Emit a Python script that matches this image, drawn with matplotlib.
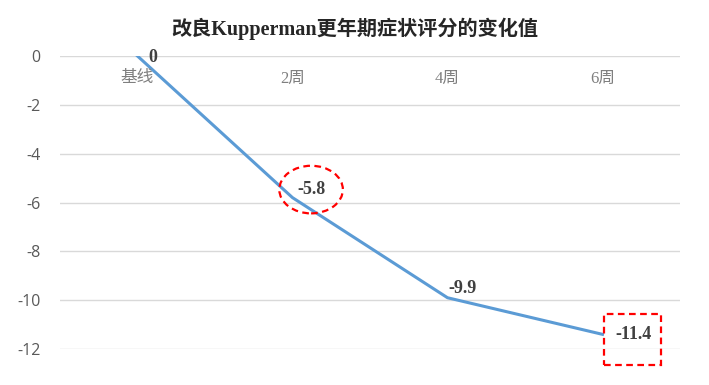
import matplotlib
matplotlib.use("Agg")
import matplotlib.pyplot as plt
from matplotlib.patches import Ellipse, Rectangle

categories = ["基线", "2周", "4周", "6周"]
values = [0, -5.8, -9.9, -11.4]
yticks = [0, -2, -4, -6, -8, -10, -12]
title = "改良Kupperman更年期症状评分的变化值"

fig = plt.figure(figsize=(7.09, 3.85), dpi=100)
ax = fig.add_axes([0.0846, 0.0935, 0.8745, 0.761])
x = list(range(len(categories)))
ax.plot(x, values, color="#5B9BD5", lw=2.2, zorder=3)
ax.set_xlim(-0.5, len(categories) - 0.5)
ax.set_ylim(-12, 0)
ax.set_yticks(yticks)
ax.set_yticklabels([str(v) for v in yticks], fontsize=11.5, color="#595959",
                   family=["Open Sans", "DejaVu Sans"])
ax.grid(axis="y", color="#D9D9D9", lw=1)
ax.tick_params(axis="y", length=0, pad=14)
ax.set_xticks([])
for s in ax.spines.values():
    s.set_visible(False)
for xi, c in zip(x, categories):
    ax.text(xi, -0.92, c, ha="center", va="center", fontsize=12, color="#7F7F7F",
            family=["Liberation Serif", "Noto Sans CJK SC"])
label_fams = ["Liberation Serif", "DejaVu Serif"]
offsets = [(0.1, -0.05), (0.12, 0.35), (0.1, 0.38), (0.2, 0.0)]
for xi, v, (dx, dy) in zip(x, values, offsets):
    ax.text(xi + dx, v + dy, f"{v:g}", ha="center", va="center", fontsize=13,
            fontweight="bold", color="#404040", family=label_fams)

# highlight marks
e = Ellipse((1.12, values[1] + 0.33), 0.41, 1.95, fill=False, ec="#FF0000",
            ls=(0, (3, 2)), lw=1.6, zorder=4)
ax.add_patch(e)
r = Rectangle((3.01, -12.65), 0.37, 2.1, fill=False, ec="#FF0000",
              ls=(0, (3, 2)), lw=1.6, zorder=4, clip_on=False)
ax.add_patch(r)

fig.text(0.5, 0.925, title, ha="center", va="center", fontsize=14.5, fontweight="bold",
         color="#262626", family=["Liberation Serif", "Noto Sans CJK SC"])
fig.savefig("out.png", dpi=100)
